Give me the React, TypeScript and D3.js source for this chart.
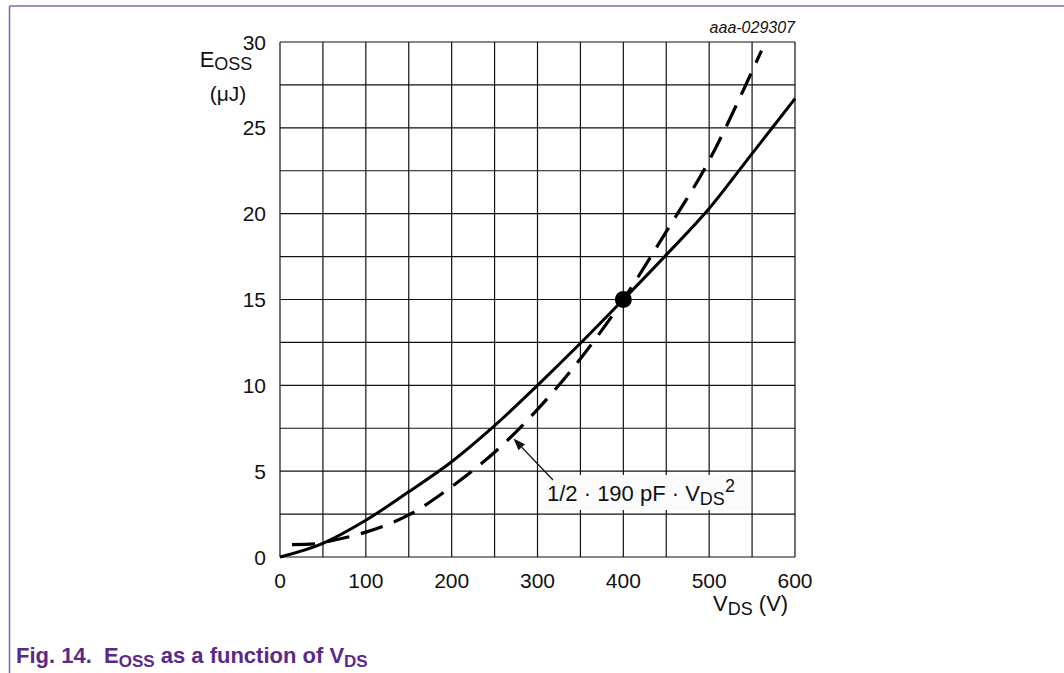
import React from "react";
import * as d3 from "d3";

const xTicks = [0, 100, 200, 300, 400, 500, 600];
const yTicks = [0, 5, 10, 15, 20, 25, 30];
const xGrid = d3.range(0, 601, 50);
const yGrid = d3.range(0, 30.01, 2.5);

const measuredV = [0, 50, 100, 150, 200, 250, 300, 350, 400, 450, 500, 550, 600];
const measuredE = [0, 0.8, 2.14, 3.8, 5.55, 7.65, 10.0, 12.45, 15.0, 17.6, 20.3, 23.5, 26.7];

const approxV = [14, 40, 60, 87, 100, 150, 200, 250, 300, 350, 400, 450, 500, 550, 561];
const approxE = [0.72, 0.76, 0.95, 1.26, 1.45, 2.45, 4.1, 6.1, 8.6, 11.55, 15.0, 18.95, 23.1, 28.3, 29.5];

const markerPoint = { v: 400, e: 15 };

const W = 1064;
const H = 673;
const left = 280, right = 795, top = 42, bottom = 557;

export default function App() {
  const x = d3.scaleLinear().domain([0, 600]).range([left, right]);
  const y = d3.scaleLinear().domain([0, 30]).range([bottom, top]);
  const line = d3
    .line<[number, number]>()
    .x((d) => x(d[0]))
    .y((d) => y(d[1]))
    .curve(d3.curveMonotoneX);
  const solid = line(measuredV.map((v, i) => [v, measuredE[i]]) as [number, number][]) || "";
  const dashed = line(approxV.map((v, i) => [v, approxE[i]]) as [number, number][]) || "";
  const font = "'Liberation Sans', Arial, sans-serif";
  const purple = "#5a2a86";

  // arrow geometry
  const ax1 = 553, ay1 = 480;
  const tipV = 272, tipE = 6.9;
  const tx = x(tipV), ty = y(tipE);
  const ang = Math.atan2(ty - ay1, tx - ax1);
  const hl = 12, hw = 4.5;
  const bx = tx - hl * Math.cos(ang), by = ty - hl * Math.sin(ang);
  const px = -Math.sin(ang), py = Math.cos(ang);
  const head = `M${tx},${ty}L${bx + px * hw},${by + py * hw}L${bx - px * hw},${by - py * hw}Z`;

  return (
    <svg
      width={W}
      height={H}
      style={{ position: "absolute", left: 0, top: 0, background: "#fff" }}
      fontFamily={font}
    >
      {/* frame */}
      <line x1={9.5} y1={6} x2={W} y2={6} stroke="#8a66b8" strokeWidth={1.6} />
      <line x1={9.5} y1={6} x2={9.5} y2={H} stroke="#8a66b8" strokeWidth={1.6} />

      {/* grid */}
      {xGrid.map((v) => (
        <line key={"gx" + v} x1={x(v)} x2={x(v)} y1={top} y2={bottom} stroke="#111" strokeWidth={1.2} />
      ))}
      {yGrid.map((v) => (
        <line key={"gy" + v} x1={left} x2={right} y1={y(v)} y2={y(v)} stroke="#111" strokeWidth={1.2} />
      ))}

      {/* tick labels */}
      {xTicks.map((v) => (
        <text key={"tx" + v} x={x(v)} y={588} textAnchor="middle" fontSize={21} fill="#111">
          {v}
        </text>
      ))}
      {yTicks.map((v) => (
        <text key={"ty" + v} x={266} y={y(v) + 7.5} textAnchor="end" fontSize={21} fill="#111">
          {v}
        </text>
      ))}

      {/* axis titles */}
      <text x={226} y={67} textAnchor="middle" fontSize={22} fill="#111">
        E<tspan fontSize={18} dy={3}>OSS</tspan>
      </text>
      <text x={228} y={101} textAnchor="middle" fontSize={21} fill="#111">
        (μJ)
      </text>
      <text x={713} y={611} fontSize={22} fill="#111">
        V<tspan fontSize={18} dy={4}>DS</tspan>
        <tspan dy={-4}> (V)</tspan>
      </text>
      <text x={795} y={33} textAnchor="end" fontSize={16} fontStyle="italic" fill="#111">
        aaa-029307
      </text>

      {/* curves */}
      <path d={dashed} fill="none" stroke="#000" strokeWidth={3.2} strokeDasharray="23 12" />
      <path d={solid} fill="none" stroke="#000" strokeWidth={3} />
      <circle cx={x(markerPoint.v)} cy={y(markerPoint.e)} r={8.5} fill="#000" />

      {/* annotation */}
      <rect x={545} y={475} width={206} height={35} fill="#fbfbfb" />
      <line x1={ax1} y1={ay1} x2={bx} y2={by} stroke="#111" strokeWidth={1.2} />
      <path d={head} fill="#111" />
      <text x={547} y={501} fontSize={22} fill="#111">
        1/2 · 190 pF · V<tspan fontSize={18} dy={4}>DS</tspan>
        <tspan fontSize={18} dy={-13}>2</tspan>
      </text>

      {/* caption */}
      <text x={16} y={663} fontSize={22} fontWeight="bold" fill={purple}>
        Fig. 14.{"\u00a0\u00a0"}E<tspan fontSize={17} dy={4}>OSS</tspan>
        <tspan dy={-4}> as a function of V</tspan>
        <tspan fontSize={17} dy={4}>DS</tspan>
      </text>
    </svg>
  );
}
